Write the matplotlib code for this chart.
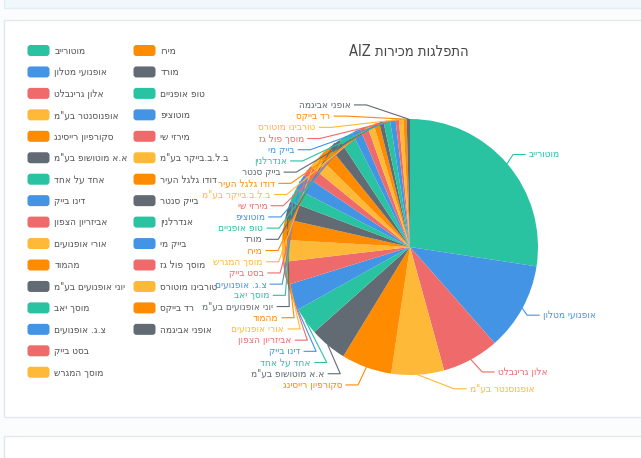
import re
import numpy as np
import matplotlib
matplotlib.use('Agg')
import matplotlib.pyplot as plt
from matplotlib.patches import FancyBboxPatch, Rectangle

plt.rcParams['font.family'] = ['DejaVu Sans']
plt.rcParams['font.stretch'] = 'condensed'

# shops in the order of the pie (clockwise from 12 o'clock)
shops = [
    'מוטורייב', 'אופנועי מטלון', 'אלון גרינבלט', 'אופנוסנטר בע"מ',
    'סקורפיון רייסינג', 'א.א מוטושופ בע"מ', 'אחד על אחד', 'דינו בייק',
    'אביזריון הצפון', 'אורי אופנועים', 'מהמוד', 'יוני אופנועים בע"מ',
    'מוסך יאב', 'צ.ג. אופנועים', 'בסט בייק', 'מוסך המגרש',
    'מירו', 'מורד', 'טופ אופניים', 'מוטוציפ', 'מירזי שי',
    'ב.ל.ב.בייקר בע"מ', 'דודו גלגל העיר', 'בייק סנטר', 'אנדרלנין',
    'בייק מי', 'מוסך פול גז', 'טורבינו מוטורס', 'רד בייקס', 'אופני אביגמה',
]
sales = [198, 80, 52, 48, 46, 34, 25, 24, 21, 20, 19, 16, 13, 14, 10,
         11, 13, 11, 13, 8, 7, 6, 5, 4, 6, 5, 3, 4, 3, 3]
palette = ['#2ac3a2', '#4394e4', '#ef6b6b', '#ffb938', '#ff8b00', '#626a74']
title = 'התפלגות מכירות AIZ'
legend_rows = 16


def rtl(s):
    # matplotlib has no bidi support, so put hebrew into visual order
    s = s[::-1]
    return re.sub(r'[A-Za-z0-9]+', lambda m: m.group(0)[::-1], s)


W, H = 641, 458
fig = plt.figure(figsize=(W / 100, H / 100), dpi=100)
fig.patch.set_facecolor('#fbfcfd')

# page background / cards, in pixel coords
bg = fig.add_axes([0, 0, 1, 1])
bg.set_xlim(0, W)
bg.set_ylim(H, 0)
bg.axis('off')
bg.add_patch(Rectangle((4, 20), W, 397, fc='white', ec='#e3e7eb', lw=1))
bg.add_patch(Rectangle((4, 436), W, 40, fc='white', ec='#e3e7eb', lw=1))
bg.add_patch(Rectangle((4, -10), W, 18, fc='#f1f8fc', ec='#e2edf3', lw=1))

bg.text(409, 51, rtl(title), ha='center', va='center', fontsize=10.5,
        color='#464646')

colors = [palette[i % len(palette)] for i in range(len(shops))]

# legend, two columns filled top to bottom
for i, name in enumerate(shops):
    col, row = divmod(i, legend_rows)
    x0 = 27.5 + col * 106
    y0 = 45 + row * 21.45
    bg.add_patch(FancyBboxPatch((x0, y0), 22, 11,
                                boxstyle='round,pad=0,rounding_size=3',
                                fc=colors[i], ec='none'))
    bg.text(x0 + 27, y0 + 5.8, rtl(name), ha='left', va='center',
            fontsize=7.2, color='#555555')

# pie axes, radius = 1 data unit
cx, cy, R = 410, 247, 128
ax = fig.add_axes([0, 0, 1, 1])
ax.patch.set_alpha(0)
wedges, _ = ax.pie(sales, colors=colors, startangle=90, counterclock=False,
                   radius=1, center=(0, 0), wedgeprops=dict(linewidth=0))
ax.set_aspect('auto')
ax.set_xlim(-cx / R, (W - cx) / R)
ax.set_ylim(-(H - cy) / R, cy / R)
ax.axis('off')

# outside labels with two-part leader lines, spread so they don't overlap
rA, ell_a, ell_b, len2, gap = 1.11, 1.125, 1.203, 0.094, 11.2 / R
mids = [np.deg2rad((w.theta1 + w.theta2) / 2) for w in wedges]
side = [1 if np.cos(m) >= 0 else -1 for m in mids]
ys = [rA * np.sin(m) for m in mids]
for s in (1, -1):
    idx = sorted([i for i in range(len(shops)) if side[i] == s], key=lambda i: -ys[i])
    for a, b in zip(idx, idx[1:]):
        ys[b] = min(ys[b], ys[a] - gap)

for i, name in enumerate(shops):
    s, y, m = side[i], ys[i], mids[i]
    # line ends sit on an ellipse around the pie
    x3 = s * ell_a * np.sqrt(max(1 - (y / ell_b) ** 2, 0))
    x2 = x3 - s * len2
    ax.plot([np.cos(m), x2, x3], [np.sin(m), y, y], color=colors[i], lw=0.8)
    ax.text(x3 + s * 0.03, y, rtl(name), ha='left' if s > 0 else 'right',
            va='center', fontsize=7.2, color=colors[i])

fig.savefig('out.png', dpi=100, facecolor=fig.get_facecolor())
